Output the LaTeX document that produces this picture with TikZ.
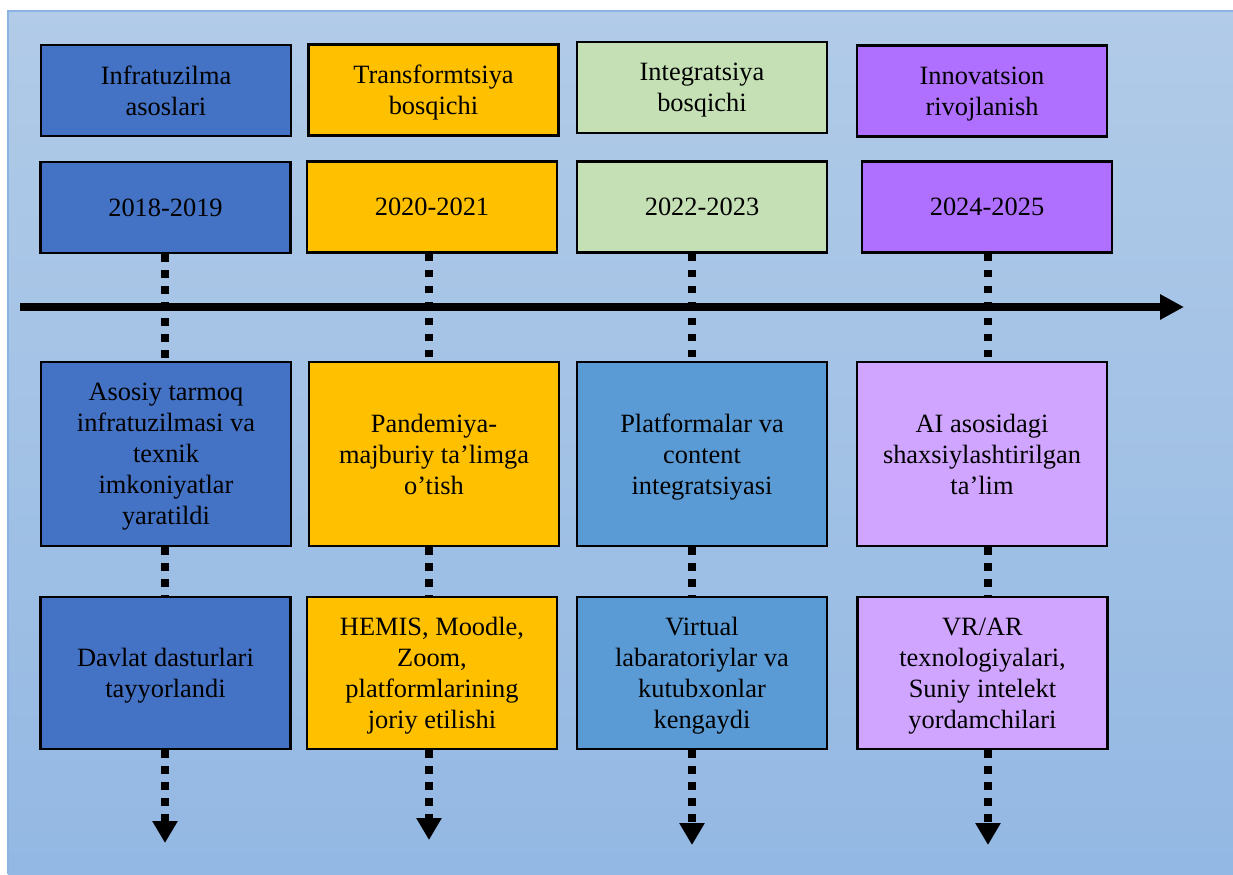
\documentclass[tikz,border=0pt]{standalone}
\usepackage{fontspec}
\setmainfont{Liberation Serif}
\usetikzlibrary{arrows.meta}
\definecolor{bgtop}{HTML}{B1CBE8}
\definecolor{bgbot}{HTML}{93B8E3}
\definecolor{bgline}{HTML}{8DB3E2}
\definecolor{cA}{HTML}{4472C4}
\definecolor{cB}{HTML}{FFC000}
\definecolor{cC}{HTML}{C5E0B4}
\definecolor{cD}{HTML}{B070FF}
\definecolor{cCl}{HTML}{5B9BD5}
\definecolor{cDl}{HTML}{D0A5FF}
\tikzset{
  box/.style={draw=black, line width=1.25pt, inner sep=0pt, minimum width=125pt,
    align=center, font=\fontsize{13.2}{15.5}\selectfont, text=black},
  lowered/.style={text depth=-4pt},
  rowA/.style={box, lowered, minimum height=45.5pt},
  rowB/.style={box, minimum height=45.5pt},
  rowC/.style={box, lowered, minimum height=92pt},
  rowD/.style={box, lowered, minimum height=76pt},
  dots/.style={draw=black, line width=3.75pt, dash pattern=on 3.75pt off 4.25pt},
  dotarrow/.style={dots, -{Triangle[length=11pt,width=12pt]}},
  mainarrow/.style={draw=black, line width=4pt, -{Triangle[length=12pt,width=12pt]}}
}
\begin{document}
\begin{tikzpicture}[x=0.5pt,y=-0.5pt]
\useasboundingbox (0,0) rectangle (1233,874);
\shade[top color=bgtop, bottom color=bgbot] (8,11) rectangle (1233,874);
\draw[bgline, line width=0.75pt] (8,874) -- (8,11) -- (1233,11);

% column connector positions
\coordinate (k1) at (165,0);
\coordinate (k2) at (429,0);
\coordinate (k3) at (692,0);
\coordinate (k4) at (988,0);

% row 1
\node[rowA, fill=cA] (a1) at (166,90.5) {Infratuzilma\\asoslari};
\node[rowA, fill=cB] (a2) at (433.5,90) {Transformtsiya\\bosqichi};
\node[rowA, fill=cC] (a3) at (702,87.5) {Integratsiya\\bosqichi};
\node[rowA, fill=cD] (a4) at (982,91) {Innovatsion\\rivojlanish};

% row 2
\node[rowB, fill=cA] (b1) at (165.5,207.5) {2018-2019};
\node[rowB, fill=cB] (b2) at (432,207) {2020-2021};
\node[rowB, fill=cC] (b3) at (702,207) {2022-2023};
\node[rowB, fill=cD] (b4) at (987,207) {2024-2025};

% row 3
\node[rowC, fill=cA] (c1) at (166,454) {Asosiy tarmoq\\infratuzilmasi va\\texnik\\imkoniyatlar\\yaratildi};
\node[rowC, fill=cB] (c2) at (434,454) {Pandemiya-\\majburiy ta’limga\\o’tish};
\node[rowC, fill=cCl] (c3) at (702,454) {Platformalar va\\content\\integratsiyasi};
\node[rowC, fill=cDl] (c4) at (982,454) {AI asosidagi\\shaxsiylashtirilgan\\ta’lim};

% row 4
\node[rowD, fill=cA] (d1) at (165.5,673) {Davlat dasturlari\\tayyorlandi};
\node[rowD, fill=cB] (d2) at (432,673) {HEMIS, Moodle,\\Zoom,\\platformlarining\\joriy etilishi};
\node[rowD, fill=cCl] (d3) at (702,673) {Virtual\\labaratoriylar va\\kutubxonlar\\kengaydi};
\node[rowD, fill=cDl] (d4) at (982.5,673) {VR/AR\\texnologiyalari,\\Suniy intelekt\\yordamchilari};

% end points of the bottom arrows
\coordinate (e1) at (165,843);
\coordinate (e2) at (429,840);
\coordinate (e3) at (692,845);
\coordinate (e4) at (988,845);

% dotted connectors
\foreach \i in {1,2,3,4}{
  \draw[dots] (b\i.south -| k\i) -- (c\i.north -| k\i);
  \draw[dots] (c\i.south -| k\i) -- (d\i.north -| k\i);
  \draw[dotarrow] (d\i.south -| k\i) -- (e\i);
}

% main time axis
\coordinate (ax0) at (20,307);
\coordinate (ax1) at (1184,307);
\draw[mainarrow] (ax0) -- (ax1);
\end{tikzpicture}
\end{document}
